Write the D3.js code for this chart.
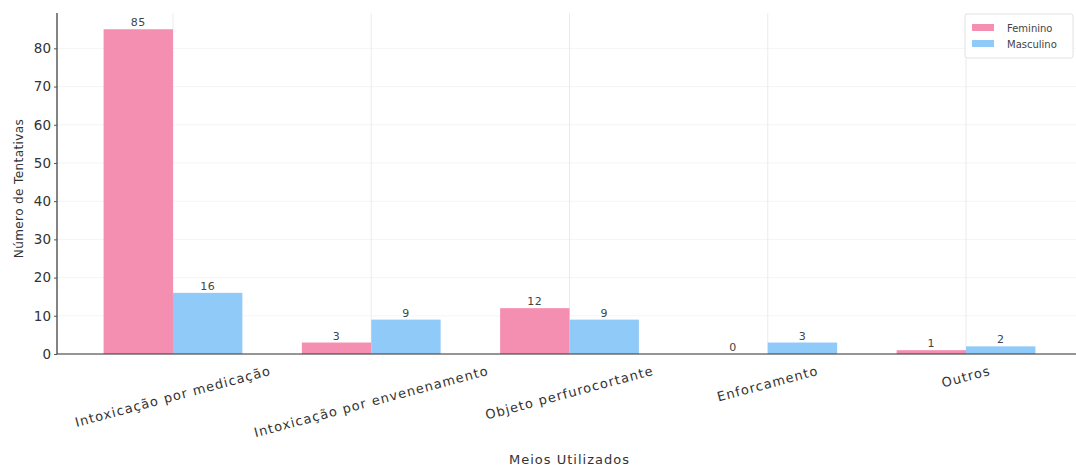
<!DOCTYPE html>
<html>
<head>
<meta charset="utf-8">
<script src="https://cdn.jsdelivr.net/npm/d3@7"></script>
<style>
  html, body { margin: 0; padding: 0; background: #fff; }
  svg { display: block; font-family: "DejaVu Sans", sans-serif; }
</style>
</head>
<body>
<svg id="chart" width="1076" height="466"></svg>
<script>
// Suicide attempts by method, split by sex
const categories = [
  "Intoxicação por medicação",
  "Intoxicação por envenenamento",
  "Objeto perfurocortante",
  "Enforcamento",
  "Outros"
];
const feminino = [85, 3, 12, 0, 1];
const masculino = [16, 9, 9, 3, 2];
const seriesNames = ["Feminino", "Masculino"];
const yTicks = [0, 10, 20, 30, 40, 50, 60, 70, 80];

const colors = { Feminino: "#F48FB1", Masculino: "#90CAF9" };
const width = 1076, height = 466;
const margin = { left: 57, top: 13, bottom: 354 };

const svg = d3.select("#chart");

// Linear x scale over category index, with bar offsets of +/- half a bar width
const barW = 0.35;
const x = d3.scaleLinear().domain([-0.585, 4.585]).range([margin.left, 1082]);
const y = d3.scaleLinear().domain([0, 89.25]).range([margin.bottom, margin.top]);

const plot = svg.append("g");

// Grid
plot.append("g").selectAll("line.h").data(yTicks).join("line")
  .attr("x1", margin.left).attr("x2", width)
  .attr("y1", d => y(d)).attr("y2", d => y(d))
  .attr("stroke", "#f1f1f1").attr("stroke-width", 0.8);
plot.append("g").selectAll("line.v").data(categories).join("line")
  .attr("x1", (d, i) => x(i)).attr("x2", (d, i) => x(i))
  .attr("y1", margin.top).attr("y2", margin.bottom)
  .attr("stroke", "#e6e6e6").attr("stroke-width", 0.8);

// Bars
const series = [
  { name: "Feminino", values: feminino, offset: -barW / 2 },
  { name: "Masculino", values: masculino, offset: barW / 2 }
];
series.forEach(s => {
  const g = plot.append("g");
  g.selectAll("rect").data(s.values).join("rect")
    .attr("x", (d, i) => x(i + s.offset - barW / 2))
    .attr("width", (d, i) => x(i + s.offset + barW / 2) - x(i + s.offset - barW / 2))
    .attr("y", d => y(d))
    .attr("height", d => y(0) - y(d))
    .attr("fill", colors[s.name]);
  g.selectAll("text").data(s.values).join("text")
    .attr("x", (d, i) => x(i + s.offset))
    .attr("y", d => y(d) - 3)
    .attr("text-anchor", "middle")
    .attr("font-size", 11)
    .attr("letter-spacing", 0.5)
    .attr("fill", "#444")
    .text(d => d);
});

// Y axis
const yAxis = d3.axisLeft(y).tickValues(yTicks).tickSize(3).tickPadding(3);
const ya = svg.append("g").attr("transform", `translate(${margin.left},0)`).call(yAxis);
ya.select(".domain").attr("d", `M0,${margin.top}V${margin.bottom}`).attr("stroke", "#333").attr("stroke-width", 1.2);
ya.selectAll(".tick line").attr("stroke", "#555");
ya.selectAll(".tick text").attr("font-size", 13.5).attr("fill", "#333").attr("font-family", "DejaVu Sans");

// X axis baseline
svg.append("line")
  .attr("x1", margin.left).attr("x2", width)
  .attr("y1", margin.bottom).attr("y2", margin.bottom)
  .attr("stroke", "#333").attr("stroke-width", 1.2);

// Rotated category labels, bounding box centred under each tick
const ang = 15 * Math.PI / 180;
const xl = svg.append("g");
const labelSize = 13;
categories.forEach((c, i) => {
  const t = xl.append("text")
    .attr("font-size", labelSize)
    .attr("letter-spacing", 1.1)
    .attr("fill", "#333")
    .attr("text-anchor", "middle")
    .attr("dominant-baseline", "central")
    .text(c);
  const L = t.node().getComputedTextLength();
  const bboxH = L * Math.sin(ang) + labelSize * Math.cos(ang);
  const cy = margin.bottom + 10 + bboxH / 2;
  t.attr("transform", `translate(${x(i)},${cy}) rotate(-15)`);
});

// Axis titles
svg.append("text")
  .attr("x", x(2)).attr("y", 464)
  .attr("text-anchor", "middle")
  .attr("font-size", 13).attr("letter-spacing", 1)
  .attr("fill", "#333")
  .text("Meios Utilizados");
svg.append("text")
  .attr("transform", `translate(19,${(margin.top + margin.bottom) / 2 + 5}) rotate(-90)`)
  .attr("text-anchor", "middle")
  .attr("dominant-baseline", "central")
  .attr("font-size", 12).attr("letter-spacing", 0.4)
  .attr("fill", "#333")
  .text("Número de Tentativas");

// Legend
const lg = svg.append("g").attr("transform", "translate(965,14)");
lg.append("rect").attr("width", 108).attr("height", 44)
  .attr("fill", "#fff").attr("stroke", "#e2e2e2").attr("rx", 2);
seriesNames.forEach((n, i) => {
  lg.append("rect").attr("x", 7).attr("y", 10 + i * 16).attr("width", 22).attr("height", 7)
    .attr("fill", colors[n]);
  lg.append("text").attr("x", 42).attr("y", 14 + i * 16)
    .attr("dominant-baseline", "central")
    .attr("font-size", 10).attr("fill", "#444").text(n);
});
</script>
</body>
</html>
